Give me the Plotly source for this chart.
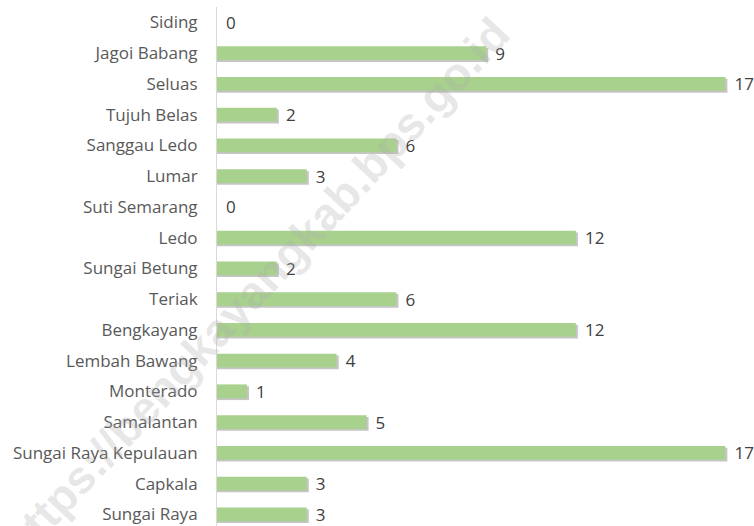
import plotly.graph_objects as go

categories = ["Siding", "Jagoi Babang", "Seluas", "Tujuh Belas", "Sanggau Ledo", "Lumar",
              "Suti Semarang", "Ledo", "Sungai Betung", "Teriak", "Bengkayang",
              "Lembah Bawang", "Monterado", "Samalantan", "Sungai Raya Kepulauan",
              "Capkala", "Sungai Raya"]
values = [0, 9, 17, 2, 6, 3, 0, 12, 2, 6, 12, 4, 1, 5, 17, 3, 3]

BAR_W = 0.45
SH_DX = 0.07   # shadow offset in x units
SH_DY = 0.06   # shadow offset in category units

shadow_x = [v + SH_DX if v > 0 else 0 for v in values]

fig = go.Figure()
fig.add_trace(go.Bar(
    y=categories, x=shadow_x, orientation="h",
    width=BAR_W, offset=-BAR_W / 2 + SH_DY,
    marker=dict(color="rgba(90,90,90,0.35)", line=dict(width=0)),
    hoverinfo="skip", showlegend=False,
))
fig.add_trace(go.Bar(
    y=categories, x=values, orientation="h",
    width=BAR_W, offset=-BAR_W / 2,
    marker=dict(color="#A9D18E", line=dict(width=0)),
    text=values, texttemplate="\u00a0\u200a%{x}", textposition="outside",
    constraintext="none",
    textfont=dict(family="Open Sans", size=17, color="#404040"),
    cliponaxis=False, showlegend=False,
))

fig.add_annotation(
    text="<b>https://bengkayangkab.bps.go.id</b>",
    xref="paper", yref="paper", x=0.0726, y=0.458,
    xanchor="center", yanchor="middle", textangle=-47,
    showarrow=False,
    font=dict(family="Liberation Sans", size=46, color="rgba(170,170,170,0.28)"),
)

fig.update_layout(
    width=754, height=526,
    margin=dict(l=217, r=0, t=7, b=0),
    paper_bgcolor="white", plot_bgcolor="white",
    barmode="overlay",
    font=dict(family="Open Sans", size=17, color="#595959"),
    xaxis=dict(range=[0, 17.96], showgrid=False, zeroline=False, showticklabels=False,
               showline=False, fixedrange=True),
    yaxis=dict(type="category", categoryorder="array", categoryarray=categories,
               range=[16.38, -0.5], showgrid=False, zeroline=False,
               showline=True, linecolor="#d9d9d9", linewidth=1,
               ticks="", ticklabelstandoff=15, fixedrange=True,
               tickfont=dict(family="Open Sans", size=17, color="#595959")),
)

fig.write_html("out.html", config={"displayModeBar": False},
               post_script="document.body.style.margin='0';")
